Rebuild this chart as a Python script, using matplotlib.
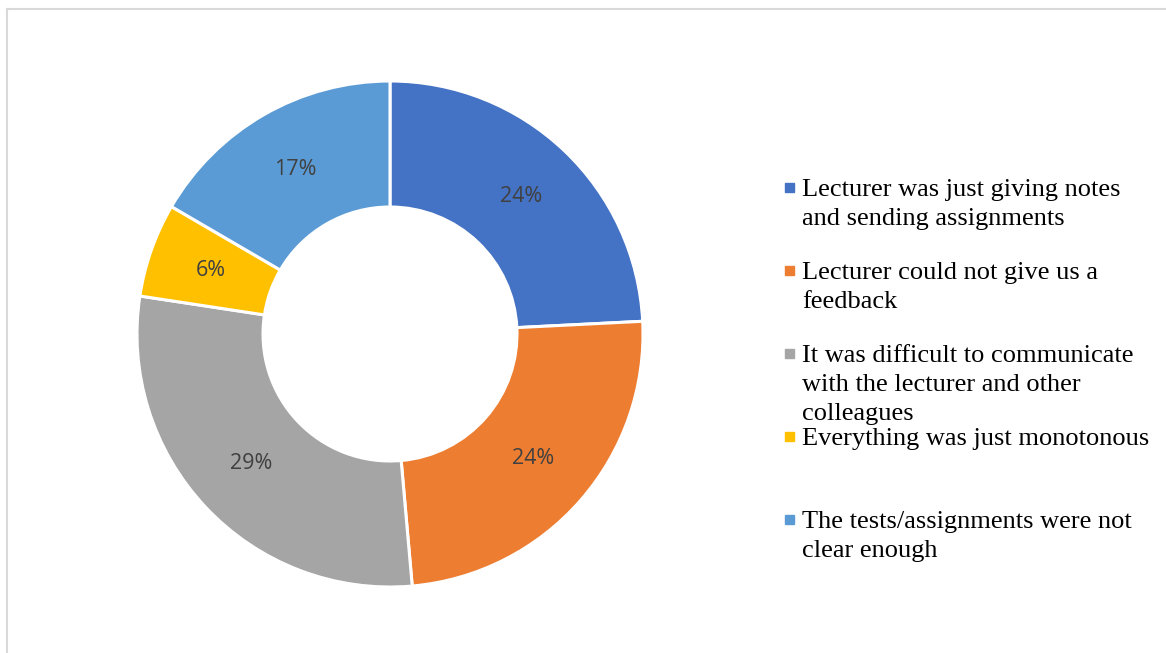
import matplotlib
matplotlib.use("Agg")
import matplotlib.pyplot as plt
from matplotlib.patches import Rectangle
from matplotlib.lines import Line2D

# survey answers (percent)
categories = [
    "Lecturer was just giving notes\nand sending assignments",
    "Lecturer could not give us a\nfeedback",
    "It was difficult to communicate\nwith the lecturer and other\ncolleagues",
    "Everything was just monotonous",
    "The tests/assignments were not\nclear enough",
]
shares = [24.2, 24.4, 28.8, 6.0, 16.6]
colors = ["#4472C4", "#ED7D31", "#A5A5A5", "#FFC000", "#5B9BD5"]

W, H = 1166, 653
fig = plt.figure(figsize=(W / 100, H / 100), dpi=100)
ax = fig.add_axes([0, 0, 1, 1])

cx, cy, r = 390, H - 334, 253
wedges, _, autotexts = ax.pie(
    shares, colors=colors, startangle=90, counterclock=False,
    center=(cx, cy), radius=r, frame=True,
    autopct=lambda p: "%d%%" % round(p), pctdistance=0.75,
    wedgeprops=dict(width=126, edgecolor="white", linewidth=2.2),
    textprops=dict(fontsize=15.5, color="#404040", family="Open Sans"),
)
ax.set_xlim(0, W)
ax.set_ylim(0, H)
ax.set_aspect("equal")
ax.axis("off")

# legend drawn by hand so the spacing matches (one text per wrapped line)
for i, (lab, c) in enumerate(zip(categories, colors)):
    ybase = 196 + i * 83
    ax.add_patch(Rectangle((785, H - ybase + 4), 9, 9, color=c))
    for k, line in enumerate(lab.split("\n")):
        ax.text(802, H - ybase - k * 29, line, fontsize=19,
                family="Liberation Serif", color="black",
                va="baseline", ha="left")

# light frame on the left and top
fig.add_artist(Line2D([7 / W, 7 / W], [0, 1 - 9 / H], color="#D9D9D9", lw=1.5))
fig.add_artist(Line2D([7 / W, 1], [1 - 9 / H, 1 - 9 / H], color="#D9D9D9", lw=1.5))

fig.savefig("out.png", dpi=100, facecolor="white")
